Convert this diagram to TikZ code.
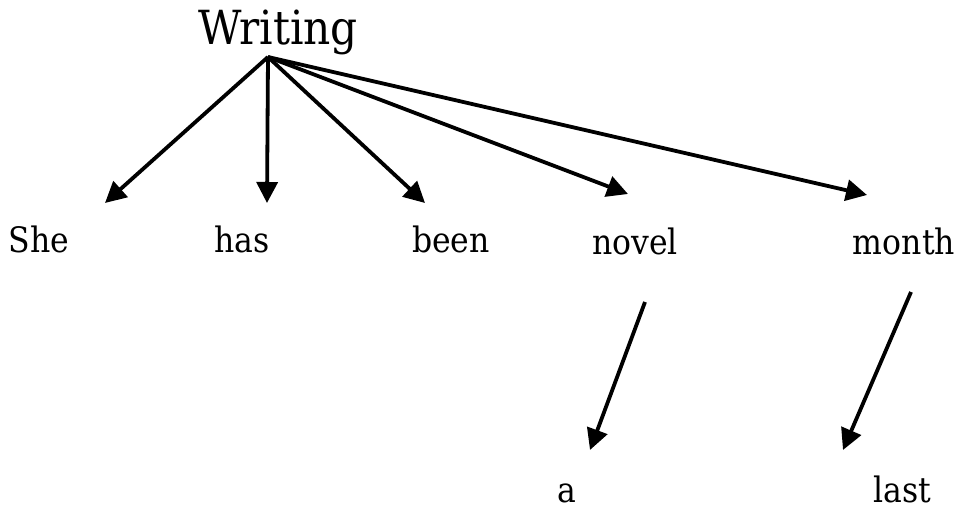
\documentclass[tikz,border=0pt]{standalone}
\usepackage{fontspec}
\setmainfont{DejaVu Serif Condensed}
\usetikzlibrary{arrows.meta}
\begin{document}
\begin{tikzpicture}[x=1pt,y=1pt,
  word/.style={anchor=base,inner sep=0pt,font=\fontsize{35}{40}\selectfont},
  rootword/.style={anchor=base,inner sep=0pt,font=\fontsize{47}{52}\selectfont},
  dep/.style={line width=3.8pt,-{Triangle[length=21pt,width=21pt]}}]
\useasboundingbox (0,0) rectangle (959,512);
% words
\node[rootword] (writing) at (278,467) {Writing};
\node[word] (she)   at (39,259)  {She};
\node[word] (has)   at (242,259) {has};
\node[word] (been)  at (451,259) {been};
\node[word] (novel) at (635,257) {novel};
\node[word] (month) at (904,257) {month};
\node[word] (a)     at (567,10)  {a};
\node[word] (last)  at (902,10)  {last};
% arrow ends
\coordinate (head) at (268,455);
\coordinate (tshe) at (105,309);
\coordinate (thas) at (267,309);
\coordinate (tbeen) at (425,309);
\coordinate (tnovel) at (628,318);
\coordinate (tmonth) at (867,317);
\coordinate (snovel) at (645,210);
\coordinate (ta) at (590,62);
\coordinate (smonth) at (911,220);
\coordinate (tlast) at (843,62);
% dependencies
\draw[dep] (head) -- (tshe);
\draw[dep] (head) -- (thas);
\draw[dep] (head) -- (tbeen);
\draw[dep] (head) -- (tnovel);
\draw[dep] (head) -- (tmonth);
\draw[dep] (snovel) -- (ta);
\draw[dep] (smonth) -- (tlast);
\end{tikzpicture}
\end{document}
